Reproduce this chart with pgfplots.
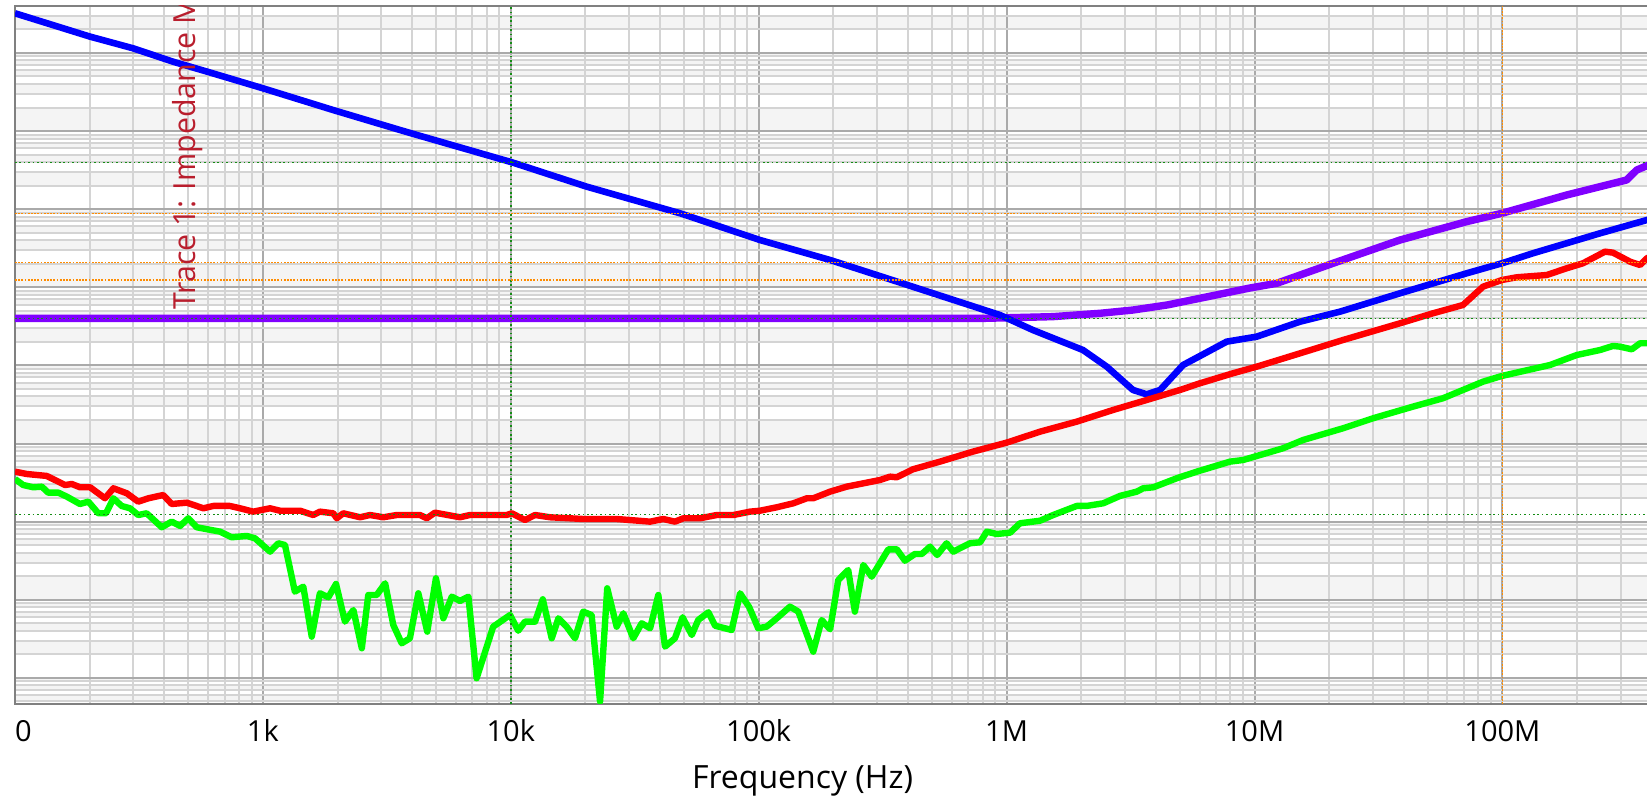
\documentclass[border=0pt]{standalone}
\usepackage{fontspec}
\setmainfont{Open Sans}
\usepackage{pgfplots}
\pgfplotsset{compat=1.18}

\definecolor{zblue}{RGB}{0,0,255}
\definecolor{zpurple}{RGB}{128,0,255}
\definecolor{zred}{RGB}{255,0,0}
\definecolor{zgreen}{RGB}{0,255,0}
\definecolor{gridmajor}{RGB}{170,170,170}
\definecolor{gridminor}{RGB}{212,212,212}
\definecolor{bandgrey}{RGB}{244,244,244}
\definecolor{framegrey}{RGB}{128,128,128}
\definecolor{cursgreen}{RGB}{20,140,20}
\definecolor{cursorange}{RGB}{255,140,0}
\definecolor{tracelabel}{RGB}{185,30,45}

% Both axes are logarithmic; coordinates are given as log10(frequency / Hz)
% and log10(|Z| / Ohm), so the grid is laid out by decades below.
\begin{document}
\begin{tikzpicture}
% alternating light bands between the minor grid lines of the |Z| axis
\begin{scope}
\clip (7.5pt,46pt) rectangle (826pt,395.02pt);
\foreach \d in {-4,...,5}{
  \foreach \k in {1,...,9}{
    \pgfmathtruncatemacro\bandodd{mod(\d+\k+20,2)}
    \ifnum\bandodd=1
      \pgfmathsetmacro\lo{46+(\d+log10(\k)+3.334)*39.0625}
      \pgfmathsetmacro\hi{46+(\d+log10(\k+1)+3.334)*39.0625}
      \fill[bandgrey] (7.5pt,\lo pt) rectangle (826pt,\hi pt);
    \fi
  }
}
\end{scope}

\begin{axis}[
  at={(7.5pt,46pt)}, anchor=south west,
  scale only axis, width=818.07pt, height=349.02pt,
  xmin=2, xmax=8.6, ymin=-3.334, ymax=5.601,
  xtick={2,...,8},
  xticklabels={\makebox[0pt][l]{0},1k,10k,100k,1M,10M,100M},
  ytick={-3,...,5}, yticklabels={},
  minor xtick={2.30103,2.47712,2.60206,2.69897,2.77815,2.8451,2.90309,2.95424,
    3.30103,3.47712,3.60206,3.69897,3.77815,3.8451,3.90309,3.95424,
    4.30103,4.47712,4.60206,4.69897,4.77815,4.8451,4.90309,4.95424,
    5.30103,5.47712,5.60206,5.69897,5.77815,5.8451,5.90309,5.95424,
    6.30103,6.47712,6.60206,6.69897,6.77815,6.8451,6.90309,6.95424,
    7.30103,7.47712,7.60206,7.69897,7.77815,7.8451,7.90309,7.95424,
    8.30103,8.47712},
  minor ytick={-3.30103,-3.22185,-3.1549,-3.09691,-3.04576,
    -2.69897,-2.52288,-2.39794,-2.30103,-2.22185,-2.1549,-2.09691,-2.04576,
    -1.69897,-1.52288,-1.39794,-1.30103,-1.22185,-1.1549,-1.09691,-1.04576,
    -0.69897,-0.52288,-0.39794,-0.30103,-0.22185,-0.1549,-0.09691,-0.04576,
    0.30103,0.47712,0.60206,0.69897,0.77815,0.8451,0.90309,0.95424,
    1.30103,1.47712,1.60206,1.69897,1.77815,1.8451,1.90309,1.95424,
    2.30103,2.47712,2.60206,2.69897,2.77815,2.8451,2.90309,2.95424,
    3.30103,3.47712,3.60206,3.69897,3.77815,3.8451,3.90309,3.95424,
    4.30103,4.47712,4.60206,4.69897,4.77815,4.8451,4.90309,4.95424,
    5.30103,5.47712},
  grid=both,
  major grid style={draw=gridmajor, line width=1pt},
  minor grid style={draw=gridminor, line width=1pt},
  tick style={draw=none},
  axis line style={draw=framegrey, line width=1pt},
  xticklabel style={font=\fontsize{14.5}{17}\selectfont, anchor=base, yshift=-19pt, inner sep=0pt},
  clip=true,
]

% Trace: purple
\addplot[zpurple, line width=3.7pt, line join=round] coordinates {
(2,1.601) (5.893,1.601) (6.187,1.624) (6.377,1.667) (6.510,1.709) (6.647,1.773)
(6.780,1.859) (6.982,1.991) (7.090,2.051) (7.317,2.307) (7.587,2.605) (7.856,2.840)
(7.998,2.947) (8.259,3.181) (8.501,3.373) (8.542,3.501) (8.583,3.556) (8.6,3.57)};

% Trace 1: impedance magnitude (blue)
\addplot[zblue, line width=3.3pt, line join=round] coordinates {
(2.000,5.507) (2.303,5.208) (2.476,5.059) (2.637,4.888) (2.775,4.760) (3.000,4.547)
(3.283,4.269) (3.553,4.013) (3.622,3.949) (4.004,3.600) (4.306,3.288) (4.683,2.947)
(5.005,2.605) (5.288,2.349) (5.476,2.157) (5.703,1.923) (5.973,1.645) (6.108,1.450)
(6.308,1.197) (6.404,0.984) (6.510,0.685) (6.565,0.630) (6.619,0.685) (6.712,1.005)
(6.888,1.304) (7.009,1.368) (7.184,1.560) (7.345,1.688) (7.587,1.923) (7.856,2.179)
(7.998,2.307) (8.123,2.435) (8.394,2.691) (8.583,2.861) (8.6,2.876)};

% Trace: red
\addplot[zred, line width=3.2pt, line join=round] coordinates {
(2.000,-0.360) (2.047,-0.390) (2.128,-0.415) (2.161,-0.467) (2.202,-0.531) (2.229,-0.518)
(2.262,-0.560) (2.303,-0.560) (2.363,-0.701) (2.397,-0.573) (2.451,-0.637) (2.497,-0.744)
(2.538,-0.701) (2.598,-0.659) (2.632,-0.774) (2.693,-0.757) (2.760,-0.829) (2.800,-0.799)
(2.867,-0.799) (2.908,-0.829) (2.961,-0.872) (3.029,-0.829) (3.069,-0.860) (3.150,-0.860)
(3.203,-0.915) (3.230,-0.872) (3.284,-0.893) (3.298,-0.957) (3.324,-0.893) (3.392,-0.944)
(3.432,-0.915) (3.486,-0.944) (3.540,-0.915) (3.634,-0.915) (3.661,-0.957) (3.694,-0.885)
(3.795,-0.944) (3.835,-0.915) (3.983,-0.915) (4.004,-0.893) (4.057,-0.979) (4.098,-0.915)
(4.158,-0.944) (4.292,-0.966) (4.427,-0.966) (4.562,-1.000) (4.615,-0.966) (4.662,-1.000)
(4.696,-0.957) (4.763,-0.957) (4.831,-0.915) (4.898,-0.915) (4.965,-0.872) (5.005,-0.860)
(5.073,-0.816) (5.140,-0.765) (5.194,-0.701) (5.220,-0.701) (5.288,-0.616) (5.355,-0.552)
(5.489,-0.467) (5.530,-0.424) (5.557,-0.432) (5.622,-0.330) (5.731,-0.232) (5.864,-0.104)
(6.000,0.011) (6.135,0.152) (6.283,0.280) (6.429,0.429) (6.565,0.557) (6.699,0.685)
(6.780,0.771) (6.913,0.899) (7.009,0.984) (7.184,1.155) (7.357,1.325) (7.587,1.539)
(7.720,1.667) (7.841,1.773) (7.922,2.008) (7.998,2.093) (8.058,2.128) (8.179,2.157)
(8.259,2.243) (8.325,2.307) (8.414,2.456) (8.446,2.443) (8.515,2.328) (8.555,2.285)
(8.583,2.371) (8.6,2.40)};

% Trace: green
\addplot[zgreen, line width=3.2pt, line join=round] coordinates {
(2.000,-0.454) (2.033,-0.531) (2.074,-0.560) (2.108,-0.552) (2.134,-0.629) (2.175,-0.629)
(2.209,-0.680) (2.262,-0.774) (2.296,-0.744) (2.336,-0.893) (2.367,-0.893) (2.397,-0.701)
(2.430,-0.799) (2.464,-0.829) (2.497,-0.915) (2.531,-0.893) (2.592,-1.072) (2.632,-1.000)
(2.666,-1.055) (2.699,-0.957) (2.733,-1.072) (2.827,-1.128) (2.874,-1.200) (2.935,-1.183)
(2.968,-1.213) (3.029,-1.384) (3.062,-1.277) (3.089,-1.299) (3.129,-1.896) (3.163,-1.832)
(3.197,-2.472) (3.230,-1.917) (3.264,-1.968) (3.295,-1.798) (3.331,-2.280) (3.365,-2.131)
(3.399,-2.621) (3.425,-1.939) (3.459,-1.939) (3.493,-1.789) (3.526,-2.323) (3.560,-2.557)
(3.593,-2.493) (3.627,-1.917) (3.663,-2.408) (3.698,-1.725) (3.728,-2.237) (3.762,-1.960)
(3.795,-2.015) (3.829,-1.960) (3.862,-3.005) (3.929,-2.344) (3.997,-2.195) (4.030,-2.396)
(4.057,-2.280) (4.098,-2.280) (4.129,-1.994) (4.165,-2.493) (4.192,-2.237) (4.225,-2.344)
(4.259,-2.493) (4.292,-2.152) (4.326,-2.195) (4.360,-3.304) (4.389,-1.853) (4.427,-2.344)
(4.454,-2.173) (4.494,-2.493) (4.528,-2.301) (4.562,-2.365) (4.595,-1.939) (4.622,-2.600)
(4.662,-2.493) (4.693,-2.224) (4.730,-2.451) (4.756,-2.259) (4.797,-2.160) (4.824,-2.332)
(4.891,-2.387) (4.925,-1.917) (4.962,-2.096) (4.998,-2.365) (5.032,-2.344) (5.073,-2.237)
(5.126,-2.088) (5.160,-2.152) (5.220,-2.664) (5.254,-2.259) (5.288,-2.378) (5.321,-1.747)
(5.361,-1.619) (5.388,-2.152) (5.422,-1.555) (5.456,-1.704) (5.523,-1.354) (5.557,-1.354)
(5.590,-1.500) (5.630,-1.414) (5.658,-1.414) (5.691,-1.320) (5.720,-1.427) (5.758,-1.277)
(5.785,-1.384) (5.852,-1.277) (5.893,-1.264) (5.920,-1.128) (5.960,-1.158) (6.014,-1.141)
(6.054,-1.021) (6.135,-0.988) (6.188,-0.915) (6.283,-0.799) (6.323,-0.799) (6.390,-0.765)
(6.457,-0.671) (6.525,-0.616) (6.551,-0.573) (6.592,-0.560) (6.686,-0.445) (6.767,-0.360)
(6.901,-0.232) (6.954,-0.211) (7.115,-0.061) (7.196,0.045) (7.357,0.195) (7.478,0.323)
(7.639,0.472) (7.760,0.579) (7.922,0.792) (7.998,0.865) (8.192,1.005) (8.300,1.133)
(8.394,1.197) (8.446,1.249) (8.474,1.240) (8.522,1.206) (8.555,1.283) (8.583,1.283)
(8.6,1.29)};

% cursor at 10 kHz and the trace levels it reads
\addplot[cursgreen, line width=0.8pt, dash pattern=on 0.8pt off 1.4pt] coordinates {(4,-3.334) (4,5.601)};
\addplot[cursgreen, line width=0.8pt, dash pattern=on 0.8pt off 1.4pt] coordinates {(2,3.596) (8.6,3.596)};
\addplot[cursgreen, line width=0.8pt, dash pattern=on 0.8pt off 1.4pt] coordinates {(2,1.601) (8.6,1.601)};
\addplot[cursgreen, line width=0.8pt, dash pattern=on 0.8pt off 1.4pt] coordinates {(2,-0.906) (8.6,-0.906)};
% cursor at 100 MHz and the trace levels it reads
\addplot[cursorange, line width=0.8pt, dash pattern=on 0.9pt off 0.7pt] coordinates {(8,-3.334) (8,5.601)};
\addplot[cursorange, line width=0.8pt, dash pattern=on 0.9pt off 0.7pt] coordinates {(2,2.942) (8.6,2.942)};
\addplot[cursorange, line width=0.8pt, dash pattern=on 0.9pt off 0.7pt] coordinates {(2,2.315) (8.6,2.315)};
\addplot[cursorange, line width=0.8pt, dash pattern=on 0.9pt off 0.7pt] coordinates {(2,2.093) (8.6,2.093)};
\end{axis}

% trace name, cut by the plot frame
\begin{scope}
\clip (7.5pt,46pt) rectangle (826pt,395.02pt);
\node[rotate=90, anchor=base west, inner sep=0pt, text=tracelabel,
      font=\fontsize{15.2}{18}\selectfont] at (97.5pt,243pt) {Trace 1: Impedance Magnitude};
\end{scope}

\node[anchor=base, inner sep=0pt, font=\fontsize{16}{19}\selectfont] at (401.25pt,3.5pt) {Frequency (Hz)};

\pgfresetboundingbox
\useasboundingbox (0,0) rectangle (823.5pt,398pt);
\end{tikzpicture}
\end{document}
